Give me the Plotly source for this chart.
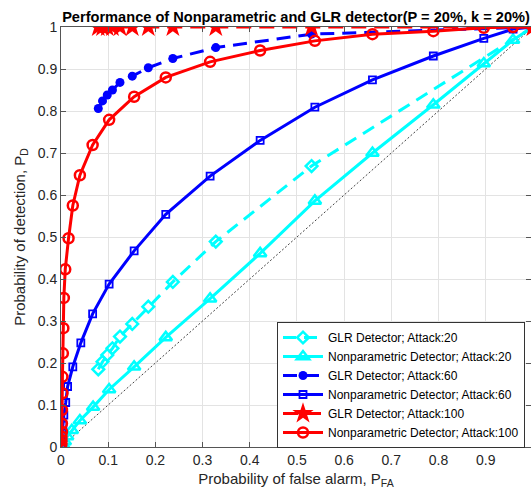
import plotly.graph_objects as go

# ---- data ----
glr_pfa = [0.079, 0.088, 0.098, 0.109, 0.125, 0.151, 0.185, 0.237, 0.328, 0.531, 1.0]
glr20_pd = [0.185, 0.203, 0.219, 0.235, 0.263, 0.293, 0.334, 0.393, 0.489, 0.669, 1.0]
glr60_pd = [0.806, 0.824, 0.838, 0.850, 0.868, 0.883, 0.903, 0.925, 0.951, 0.983, 1.0]
glr100_pd = [1.0] * 11

np20_pfa = [0, 0.004, 0.008, 0.013, 0.023, 0.040, 0.068, 0.102, 0.155, 0.222, 0.316,
            0.422, 0.538, 0.660, 0.789, 0.896, 0.958, 1.0]
np20_pd = [0, 0.006, 0.013, 0.025, 0.040, 0.063, 0.095, 0.137, 0.191, 0.261, 0.353,
           0.461, 0.586, 0.700, 0.815, 0.913, 0.969, 1.0]

np60_pfa = [0, 0.001, 0.002, 0.004, 0.006, 0.010, 0.014, 0.025, 0.042, 0.067, 0.102,
            0.155, 0.222, 0.316, 0.422, 0.538, 0.660, 0.789, 0.896, 0.958, 1.0]
np60_pd = [0, 0.017, 0.033, 0.052, 0.076, 0.106, 0.144, 0.191, 0.248, 0.317, 0.388,
           0.467, 0.554, 0.645, 0.730, 0.809, 0.874, 0.931, 0.973, 0.995, 1.0]

np100_pfa = [0, 0.001, 0.001, 0.001, 0.002, 0.002, 0.002, 0.003, 0.003, 0.004, 0.005,
             0.006, 0.009, 0.016, 0.025, 0.040, 0.067, 0.102, 0.155, 0.222, 0.316,
             0.422, 0.538, 0.660, 0.789, 0.896, 0.958, 1.0]
np100_pd = [0, 0.008, 0.016, 0.025, 0.036, 0.056, 0.088, 0.128, 0.167, 0.223, 0.283,
            0.355, 0.423, 0.497, 0.575, 0.647, 0.719, 0.779, 0.834, 0.880, 0.917,
            0.944, 0.967, 0.983, 0.990, 0.998, 1.0, 1.0]

diag = [0, 1]

x_ticks = [0, 0.1, 0.2, 0.3, 0.4, 0.5, 0.6, 0.7, 0.8, 0.9, 1]
y_ticks = [0, 0.1, 0.2, 0.3, 0.4, 0.5, 0.6, 0.7, 0.8, 0.9, 1]
tick_text = ["0", "0.1", "0.2", "0.3", "0.4", "0.5", "0.6", "0.7", "0.8", "0.9", "1"]

CYAN = "#00ffff"
BLUE = "#0000ff"
RED = "#ff0000"

fig = go.Figure()

fig.add_trace(go.Scatter(x=diag, y=diag, mode="lines", showlegend=False,
                         line=dict(color="#444444", width=1, dash="2px,2px"),
                         hoverinfo="skip"))

fig.add_trace(go.Scatter(
    x=glr_pfa, y=glr20_pd, mode="lines+markers", name="GLR Detector; Attack:20",
    line=dict(color=CYAN, width=3, dash="13px,8px"),
    marker=dict(symbol="diamond-open", size=9, color=CYAN, line=dict(width=2.5, color=CYAN))))
fig.add_trace(go.Scatter(
    x=np20_pfa, y=np20_pd, mode="lines+markers", name="Nonparametric Detector; Attack:20",
    line=dict(color=CYAN, width=3),
    marker=dict(symbol="triangle-up-open", size=11, color=CYAN, line=dict(width=2.5, color=CYAN))))
fig.add_trace(go.Scatter(
    x=glr_pfa, y=glr60_pd, mode="lines+markers", name="GLR Detector; Attack:60",
    line=dict(color=BLUE, width=3, dash="14px,8px"),
    marker=dict(symbol="circle", size=9, color=BLUE)))
fig.add_trace(go.Scatter(
    x=np60_pfa, y=np60_pd, mode="lines+markers", name="Nonparametric Detector; Attack:60",
    line=dict(color=BLUE, width=3),
    marker=dict(symbol="square-open", size=7, color=BLUE, line=dict(width=1.8, color=BLUE))))
fig.add_trace(go.Scatter(
    x=glr_pfa, y=glr100_pd, mode="lines+markers", name="GLR Detector; Attack:100",
    line=dict(color=RED, width=3, dash="15px,8px"),
    marker=dict(symbol="star", size=16, color=RED)))
fig.add_trace(go.Scatter(
    x=np100_pfa, y=np100_pd, mode="lines+markers", name="Nonparametric Detector; Attack:100",
    line=dict(color=RED, width=3),
    marker=dict(symbol="circle-open", size=10, color=RED, line=dict(width=2.5, color=RED))))

FONT = "Liberation Sans, Arial, sans-serif"
AX = "#262626"

axis_common = dict(
    showgrid=True, gridcolor="#e3e3e3", gridwidth=1,
    zeroline=False, showline=True, linecolor="#555555", linewidth=1,
    mirror="ticks", ticks="inside", ticklen=5, tickcolor="#555555",
    tickfont=dict(family=FONT, size=14, color=AX),
)

fig.update_layout(
    width=531, height=495,
    margin=dict(l=61, r=0, t=27, b=48),
    paper_bgcolor="white", plot_bgcolor="white",
    title=dict(text="<b>Performance of Nonparametric and GLR detector(P = 20%, k = 20%)</b>",
               font=dict(family=FONT, size=14.6, color="black"),
               x=0.5, xref="paper", xanchor="center",
               y=1 - 17 / 495, yref="container", yanchor="middle"),
    xaxis=dict(range=[0, 0.996], tickvals=x_ticks, ticktext=tick_text,
               title=dict(text="Probability of false alarm, P<sub>FA</sub>",
                          font=dict(family=FONT, size=15, color=AX), standoff=6),
               **axis_common),
    yaxis=dict(range=[0, 1], tickvals=y_ticks, ticktext=tick_text,
               title=dict(text="Probability of detection, P<sub>D</sub>",
                          font=dict(family=FONT, size=15, color=AX), standoff=8),
               **axis_common),
    legend=dict(x=(277 - 61) / 470, y=(447 - 322) / 420, xanchor="left", yanchor="top",
                bgcolor="white", bordercolor="#333333", borderwidth=1,
                font=dict(family=FONT, size=12, color="black"),
                tracegroupgap=0, itemwidth=40),
    showlegend=True,
)

fig.write_html("out.html")
